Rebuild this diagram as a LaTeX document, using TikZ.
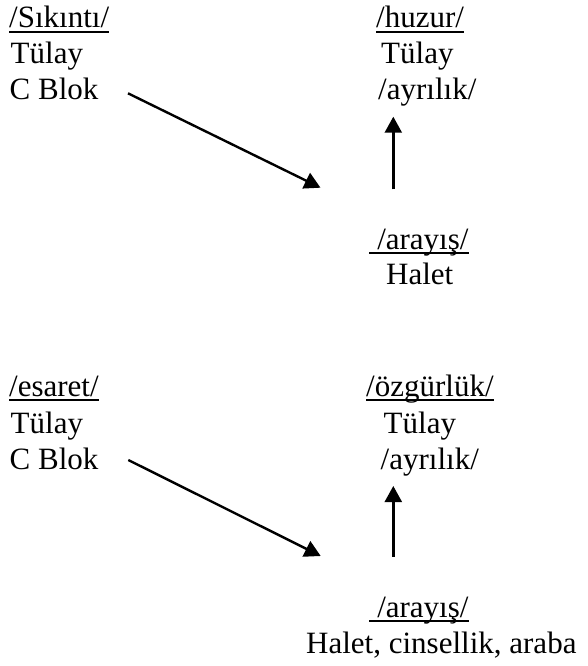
\documentclass[tikz,border=0pt]{standalone}
\usepackage{fontspec}
\setmainfont{Liberation Serif}
\usetikzlibrary{arrows.meta}

\begin{document}
\begin{tikzpicture}[x=1pt, y=-1pt, >={Triangle[length=16pt,width=17pt]},
  lbl/.style={anchor=base west, inner sep=0pt, font=\fontsize{31pt}{35pt}\selectfont},
  ul/.style={line width=1.8pt},
  link/.style={->, line width=2.4pt}]

\useasboundingbox (0,0) rectangle (587,666);

% first scheme
\node (sikinti) [lbl] at (9,28) {/Sıkıntı/};
\node (tulayA) [lbl] at (10.5,64) {Tülay};
\node (blokA) [lbl] at (9.5,100) {C Blok};
\node (huzur) [lbl] at (376,28) {/huzur/};
\node (tulayB) [lbl] at (381,64) {Tülay};
\node (ayrilikA) [lbl] at (378,100) {/ayrılık/};
\node (arayisA) [lbl] at (369.3,249) {\ /arayış/};
\node (haletA) [lbl] at (386,284.5) {Halet};
\draw [ul] ([yshift=-4.2pt]sikinti.base west) -- ([yshift=-4.2pt]sikinti.base east);
\draw [ul] ([yshift=-4.2pt]huzur.base west) -- ([yshift=-4.2pt]huzur.base east);
\draw [ul] ([yshift=-4.2pt]arayisA.base west) -- ([yshift=-4.2pt]arayisA.base east);

\coordinate (fromA) at (128,93.3);
\coordinate (toA) at (320.5,187.7);
\coordinate (upA) at (393.3,189.3);
\coordinate (tipA) at (393.3,116.7);
\draw [link] (fromA) -- (toA);
\draw [link] (upA) -- (tipA);

% second scheme
\node (esaret) [lbl] at (9,396) {/esaret/};
\node (tulayC) [lbl] at (10.5,433) {Tülay};
\node (blokC) [lbl] at (9.5,469.5) {C Blok};
\node (ozgurluk) [lbl] at (366,396) {/özgürlük/};
\node (tulayD) [lbl] at (383.5,433) {Tülay};
\node (ayrilikC) [lbl] at (380.5,469.5) {/ayrılık/};
\node (arayisC) [lbl] at (369.3,617) {\ /arayış/};
\node (haletC) [lbl] at (306,653) {Halet, cinsellik, araba};
\draw [ul] ([yshift=-4.2pt]esaret.base west) -- ([yshift=-4.2pt]esaret.base east);
\draw [ul] ([yshift=-4.2pt]ozgurluk.base west) -- ([yshift=-4.2pt]ozgurluk.base east);
\draw [ul] ([yshift=-4.2pt]arayisC.base west) -- ([yshift=-4.2pt]arayisC.base east);

\coordinate (fromC) at (128.3,460);
\coordinate (toC) at (320.7,556);
\coordinate (upC) at (393.3,556.7);
\coordinate (tipC) at (393.3,486);
\draw [link] (fromC) -- (toC);
\draw [link] (upC) -- (tipC);

\end{tikzpicture}
\end{document}
